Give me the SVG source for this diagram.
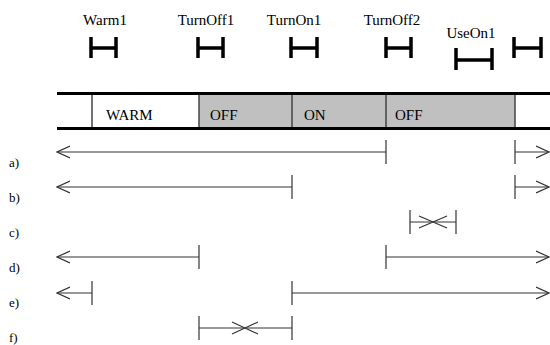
<svg xmlns="http://www.w3.org/2000/svg" width="550" height="345" viewBox="0 0 550 345">
<style>
text{font-family:"Liberation Serif","Times New Roman",serif;fill:#000}
.lbl{font-size:15px}
.row{font-size:13px}
.h{stroke:#000;stroke-width:3.5;fill:none}
.ln{stroke:#333;stroke-width:1.2;fill:none}
.div{stroke:#444;stroke-width:1.5}
</style>
<defs>
<marker id="ah" viewBox="0 0 14 14" refX="13" refY="7" markerWidth="14" markerHeight="14" markerUnits="userSpaceOnUse" orient="auto-start-reverse">
<path d="M0,1 L13,7 L0,13" fill="none" stroke="#333" stroke-width="1.2"/>
</marker>
</defs>
<rect width="550" height="345" fill="#fff"/>
<g id="markers">
<g id="Warm1"><text class="lbl" x="105" y="25" text-anchor="middle">Warm1</text><path class="h" d="M91,37V58M116,37V58M91,48H116"/></g>
<g id="TurnOff1"><text class="lbl" x="206" y="25" text-anchor="middle">TurnOff1</text><path class="h" d="M198,37V58M223,37V58M198,48H223"/></g>
<g id="TurnOn1"><text class="lbl" x="294" y="25" text-anchor="middle">TurnOn1</text><path class="h" d="M291,37V58M317,37V58M291,48H317"/></g>
<g id="TurnOff2"><text class="lbl" x="392" y="25" text-anchor="middle">TurnOff2</text><path class="h" d="M386,37V58M411,37V58M386,48H411"/></g>
<g id="UseOn1"><text class="lbl" x="471" y="38" text-anchor="middle">UseOn1</text><path class="h" d="M456,48V70M492,48V70M456,60H492"/></g>
<g id="End"><path class="h" d="M514,37V58M541,37V58M514,48H541"/></g>
</g>
<g id="bar">
<rect x="199" y="93.5" width="316" height="35" fill="#c0c0c0"/>
<line class="div" x1="92" y1="93" x2="92" y2="129"/>
<line class="div" x1="199" y1="93" x2="199" y2="129"/>
<line class="div" x1="292" y1="93" x2="292" y2="129"/>
<line class="div" x1="386" y1="93" x2="386" y2="129"/>
<line class="div" x1="515" y1="93" x2="515" y2="129"/>
<line x1="57" y1="93.5" x2="550" y2="93.5" stroke="#000" stroke-width="3"/>
<line x1="57" y1="128.5" x2="550" y2="128.5" stroke="#000" stroke-width="3"/>
<text class="lbl" x="106" y="120">WARM</text>
<text class="lbl" x="210" y="120">OFF</text>
<text class="lbl" x="304" y="120">ON</text>
<text class="lbl" x="395" y="120">OFF</text>
</g>
<g id="labels">
<text class="row" x="9" y="167">a)</text>
<text class="row" x="9" y="202">b)</text>
<text class="row" x="9" y="237">c)</text>
<text class="row" x="9" y="272">d)</text>
<text class="row" x="9" y="307">e)</text>
<text class="row" x="9" y="342">f)</text>
</g>
<g id="connectors">
<!-- a -->
<line class="ln" x1="386" y1="152" x2="57" y2="152" marker-end="url(#ah)"/>
<line class="ln" x1="386" y1="140" x2="386" y2="164"/>
<line class="ln" x1="515" y1="152" x2="549" y2="152" marker-end="url(#ah)"/>
<line class="ln" x1="515" y1="140" x2="515" y2="164"/>
<!-- b -->
<line class="ln" x1="292" y1="187" x2="57" y2="187" marker-end="url(#ah)"/>
<line class="ln" x1="292" y1="175" x2="292" y2="199"/>
<line class="ln" x1="515" y1="187" x2="549" y2="187" marker-end="url(#ah)"/>
<line class="ln" x1="515" y1="175" x2="515" y2="199"/>
<!-- c -->
<line class="ln" x1="410" y1="222" x2="456" y2="222"/>
<line class="ln" x1="410" y1="210" x2="410" y2="234"/>
<line class="ln" x1="456" y1="210" x2="456" y2="234"/>
<path class="ln" d="M419,216L447,228M419,228L447,216"/>
<!-- d -->
<line class="ln" x1="199" y1="257" x2="57" y2="257" marker-end="url(#ah)"/>
<line class="ln" x1="199" y1="245" x2="199" y2="269"/>
<line class="ln" x1="386" y1="257" x2="549" y2="257" marker-end="url(#ah)"/>
<line class="ln" x1="386" y1="245" x2="386" y2="269"/>
<!-- e -->
<line class="ln" x1="92" y1="293" x2="57" y2="293" marker-end="url(#ah)"/>
<line class="ln" x1="92" y1="281" x2="92" y2="305"/>
<line class="ln" x1="292" y1="293" x2="549" y2="293" marker-end="url(#ah)"/>
<line class="ln" x1="292" y1="281" x2="292" y2="305"/>
<!-- f -->
<line class="ln" x1="199" y1="328" x2="292" y2="328"/>
<line class="ln" x1="199" y1="316" x2="199" y2="340"/>
<line class="ln" x1="292" y1="316" x2="292" y2="340"/>
<path class="ln" d="M232,322L258,334M232,334L258,322"/>
</g>
</svg>
